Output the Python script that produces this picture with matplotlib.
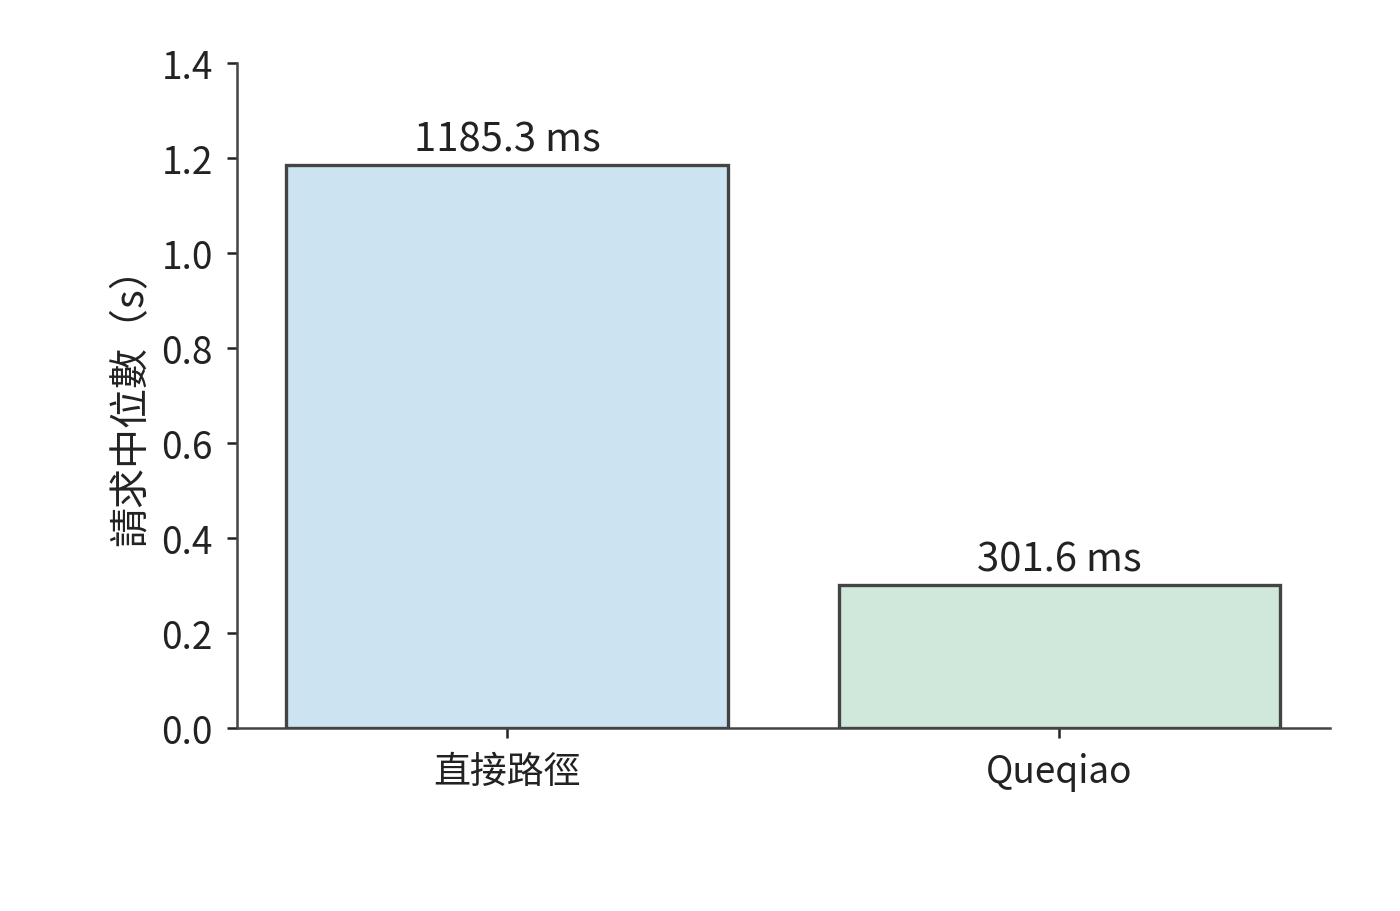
import numpy as np
import matplotlib.pyplot as plt

plt.rcParams['font.family'] = ['Noto Sans CJK TC', 'DejaVu Sans']

# 資料（毫秒）
categories = ['直接路徑', 'Queqiao']
median_ms = [1185.3, 301.6]
colors = ['#cce3f2', '#d0e8dc']

fig = plt.figure(figsize=(7, 4.56), dpi=200)
ax = fig.add_axes([0.169, 0.2007, 0.781, 0.7293])

x = np.arange(len(categories))
median_s = np.array(median_ms) / 1000
bars = ax.bar(x, median_s, width=0.8, color=colors, edgecolor='#444444', linewidth=1.2)

for b, v in zip(bars, median_ms):
    ax.annotate(f'{v:.1f} ms', (b.get_x() + b.get_width() / 2, b.get_height()),
                xytext=(0, 2), textcoords='offset points', ha='center', va='bottom',
                fontsize=14.4, color='#222222')

ax.set_xticks(x)
ax.set_xticklabels(categories)
ax.set_xlim(-0.49, 1.49)
ax.set_ylim(0, 1.4)
ax.set_yticks(np.arange(0, 1.41, 0.2))
ax.set_ylabel('請求中位數（s）', fontsize=14.4, color='#222222', labelpad=3.5)

for s in ['top', 'right']:
    ax.spines[s].set_visible(False)
for s in ['left', 'bottom']:
    ax.spines[s].set_color('#444444')
    ax.spines[s].set_linewidth(0.9)
ax.tick_params(axis='both', labelsize=13.3, colors='#222222', length=3.6, width=0.9, pad=5)

fig.savefig('out.png')
